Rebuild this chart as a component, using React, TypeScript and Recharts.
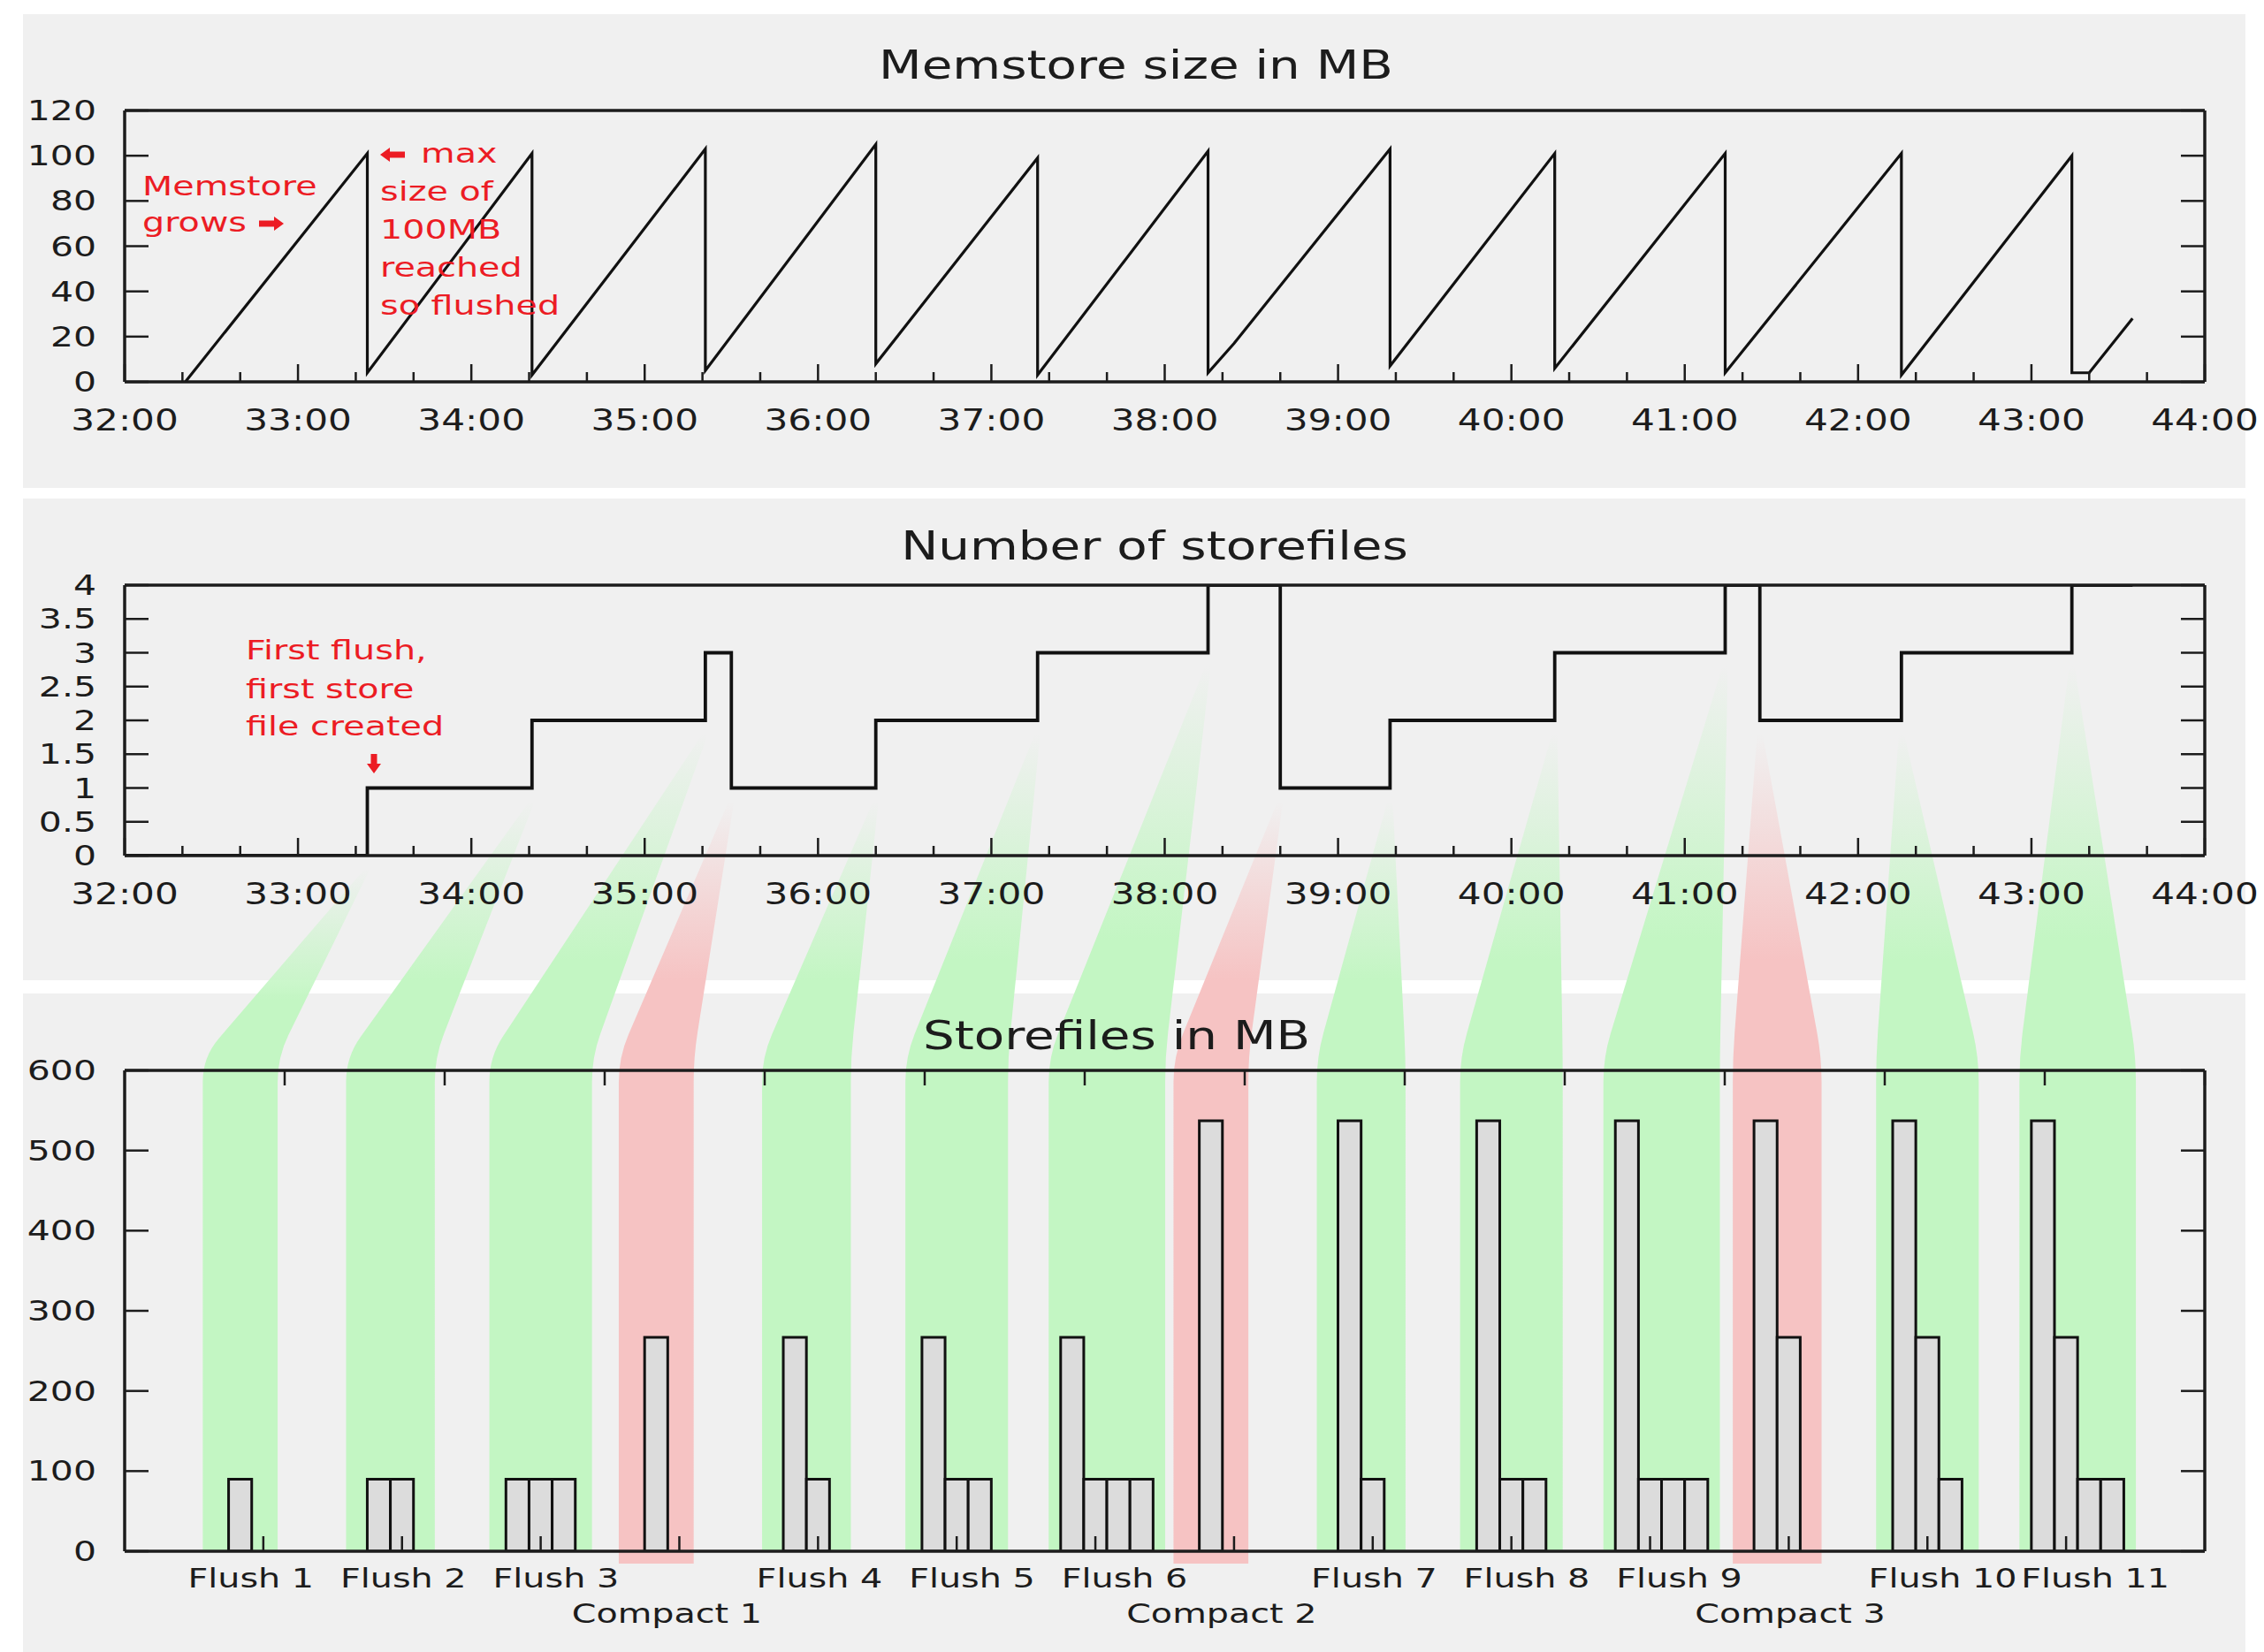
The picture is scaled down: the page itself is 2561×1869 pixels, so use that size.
import { ComposedChart, Line, Bar, XAxis, YAxis } from 'recharts'

// ── Data ───────────────────────────────────────────────────────────────────────
const timeTickLabels = ['32:00', '33:00', '34:00', '35:00', '36:00', '37:00', '38:00', '39:00', '40:00', '41:00', '42:00', '43:00', '44:00']

// memstore sawtooth: ramps up, flushed near 100MB
const memTimes = ['32:21', '33:24', '33:24', '34:21', '34:21', '35:21', '35:21', '36:20', '36:20', '37:16', '37:16', '38:15', '38:15', '38:24', '39:18', '39:18', '40:15', '40:15', '41:14', '41:14', '42:15', '42:15', '43:14', '43:14', '43:20', '43:35']
const memSizes = [0, 101, 4, 101, 3, 103, 5, 105, 8, 99, 3, 102, 4, 17, 103, 7, 101, 6, 101, 4, 101, 3, 100, 4, 4, 28]
const memTicks = [0, 20, 40, 60, 80, 100, 120]

// number of storefiles (step line)
const storefileTimes = ['32:00', '33:24', '34:21', '35:21', '35:30', '36:20', '37:16', '38:15', '38:40', '39:18', '40:15', '41:14', '41:26', '42:15', '43:14', '43:35']
const storefileCounts = [0, 1, 2, 3, 1, 2, 3, 4, 1, 2, 3, 4, 2, 3, 4, 4]
const countTicks = [0, 0.5, 1, 1.5, 2, 2.5, 3, 3.5, 4]

// storefile sizes after each event
const groupLabels = ['Flush 1', 'Flush 2', 'Flush 3', 'Compact 1', 'Flush 4', 'Flush 5', 'Flush 6', 'Compact 2', 'Flush 7', 'Flush 8', 'Flush 9', 'Compact 3', 'Flush 10', 'Flush 11']
const storefileSizes = [
  [90], [90, 90], [90, 90, 90], [267], [267, 90], [267, 90, 90], [267, 90, 90, 90],
  [537], [537, 90], [537, 90, 90], [537, 90, 90, 90], [537, 267], [537, 267, 90], [537, 267, 90, 90],
]
const sizeTicks = [0, 100, 200, 300, 400, 500, 600]

// ── Layout ─────────────────────────────────────────────────────────────────────
const PAGE_W = 2561
const PAGE_H = 1869
const PLOT_L = 141
const PLOT_R = 2494
const PLOT_W = PLOT_R - PLOT_L
const MEM = { y0: 0, y1: 560, top: 125, bottom: 432 }
const CNT = { y0: 560, y1: 1115, top: 662, bottom: 968 }
const SIZE = { y0: 1115, y1: 1869, top: 1211, bottom: 1755 }
const GROUP_SPAN = 15 // x units of the storefile chart
const BAR_UNITS = 1 / 6
const UNIT_PX = PLOT_W / GROUP_SPAN

const SX = 1.28 // the source image is stretched horizontally
const FONT = "'DejaVu Sans', sans-serif"
const INK = '#1c1c1c'
const RED = '#ec1c24'
const GREEN_BAND = '#c3f6c3'
const RED_BAND = '#f6c3c3'

const toSec = (s: string) => {
  const [m, ss] = s.split(':').map(Number)
  return m * 60 + ss
}
const majorTimes = timeTickLabels.map(toSec)
const T0 = majorTimes[0]
const T1 = majorTimes[majorTimes.length - 1]
const timeTicks = majorTimes.flatMap((t, i) => (i < majorTimes.length - 1 ? [t, t + 20, t + 40] : [t]))
const timeLabel = new Map(majorTimes.map((t, i) => [t, timeTickLabels[i]]))

const memData = memTimes.map((t, i) => ({ t: toSec(t), mb: memSizes[i] }))
const countData = storefileTimes.map((t, i) => ({ t: toSec(t), n: storefileCounts[i] }))
const sizeData = storefileSizes.map((files, i) => ({ pos: i + 1, f1: files[0], f2: files[1], f3: files[2], f4: files[3] }))
const groupTicks = groupLabels.map((_, i) => i + 1)

// cluster of bars starts a quarter unit left of its tick
const clusterCenter = (i: number) => i + 1 - 0.25 + (storefileSizes[i].length * BAR_UNITS) / 2

// ── Text helper ────────────────────────────────────────────────────────────────
function Stretch({ x, y, size, anchor = 'middle', fill = INK, children }: {
  x: number; y: number; size: number; anchor?: 'start' | 'middle' | 'end'; fill?: string; children: React.ReactNode
}) {
  return (
    <text transform={`translate(${x} ${y}) scale(${SX} 1)`} textAnchor={anchor} fontSize={size} fontFamily={FONT} fill={fill}>
      {children}
    </text>
  )
}

// short filled arrow used by the red notes
function Arrow({ x, y, dir, len = 28 }: { x: number; y: number; dir: 'left' | 'right' | 'down'; len?: number }) {
  const s = 3.5
  const h = 8
  const hl = 11
  let pts: number[][]
  if (dir === 'down') {
    pts = [[x - s, y], [x + s, y], [x + s, y + len - hl], [x + h, y + len - hl], [x, y + len], [x - h, y + len - hl], [x - s, y + len - hl]]
  } else {
    const k = dir === 'right' ? 1 : -1
    const x0 = dir === 'right' ? x : x + len
    pts = [[x0, y - s], [x0 + k * (len - hl), y - s], [x0 + k * (len - hl), y - h], [x0 + k * len, y], [x0 + k * (len - hl), y + h], [x0 + k * (len - hl), y + s], [x0, y + s]]
  }
  return <polygon points={pts.map((p) => p.join(',')).join(' ')} fill={RED} />
}

// ── Ticks (gnuplot style, pointing inward) ─────────────────────────────────────
interface TickProps { x?: number; y?: number; payload?: { value: number } }
const TICK_STROKE = { stroke: INK, strokeWidth: 2.5 }

function TimeTickBottom({ x = 0, y = 0, payload }: TickProps) {
  const v = payload?.value ?? 0
  const label = timeLabel.get(v)
  return (
    <g>
      <line x1={x} x2={x} y1={y} y2={y - (label ? 20 : 11)} {...TICK_STROKE} />
      {label && <Stretch x={x} y={y + 55} size={33}>{label}</Stretch>}
    </g>
  )
}

function TimeTickTop({ x = 0, y = 0, payload }: TickProps) {
  const major = timeLabel.has(payload?.value ?? 0)
  return <line x1={x} x2={x} y1={y} y2={y + (major ? 20 : 11)} {...TICK_STROKE} />
}

function ValueTickLeft({ x = 0, y = 0, payload }: TickProps) {
  return (
    <g>
      <line x1={x} x2={x + 27} y1={y} y2={y} {...TICK_STROKE} />
      <Stretch x={x - 32} y={y + 11} size={32} anchor="end">{String(payload?.value ?? '')}</Stretch>
    </g>
  )
}

function ValueTickRight({ x = 0, y = 0 }: TickProps) {
  return <line x1={x} x2={x - 27} y1={y} y2={y} {...TICK_STROKE} />
}

function GroupTickBottom({ x = 0, y = 0, payload }: TickProps) {
  const idx = (payload?.value ?? 1) - 1
  const label = groupLabels[idx] ?? ''
  const secondRow = label.startsWith('Compact')
  // labels drift right with the size of the bar cluster
  const lx = x + (-0.19 + 0.1 * (storefileSizes[idx]?.length ?? 1)) * UNIT_PX
  return (
    <g>
      <line x1={x} x2={x} y1={y} y2={y - 17} {...TICK_STROKE} />
      <Stretch x={lx} y={y + (secondRow ? 81 : 41)} size={31}>{label}</Stretch>
    </g>
  )
}

function GroupTickTop({ x = 0, y = 0 }: TickProps) {
  return <line x1={x} x2={x} y1={y} y2={y + 17} {...TICK_STROKE} />
}

const AXIS_LINE = { stroke: INK, strokeWidth: 3.5 }
const axisCommon = { tickLine: false, tickSize: 0, tickMargin: 0, interval: 0 as const, axisLine: AXIS_LINE, allowDataOverflow: true }

// ── Funnels linking storefile events to the size histogram ─────────────────────
function Funnels() {
  const tx = (s: number) => PLOT_L + ((s - T0) / (T1 - T0)) * PLOT_W
  const cy = (n: number) => CNT.bottom - (n / 4) * (CNT.bottom - CNT.top)
  const ux = (u: number) => PLOT_L + u * UNIT_PX
  const yJ = SIZE.top - 15
  const r = 28

  const items = groupLabels.map((_, i) => {
    const before = storefileCounts[i]
    const after = storefileCounts[i + 1]
    const compact = after < before
    const tipX = tx(toSec(storefileTimes[i + 1]))
    const tipY = cy(Math.min(before, after)) + 15
    const half = (0.44 + 0.1 * storefileSizes[i].length) / 2
    const left = ux(clusterCenter(i) - half)
    const right = ux(clusterCenter(i) + half)
    const yB = SIZE.bottom + (compact ? 14 : 0)
    const toward = (cx: number, px: number) => {
      const dx = px - cx
      const dy = tipY - yJ
      const len = Math.hypot(dx, dy)
      return [cx + (dx * r) / len, yJ + (dy * r) / len]
    }
    const [ax, ay] = toward(left, tipX - 3)
    const [bx, by] = toward(right, tipX + 3)
    const d = `M ${tipX - 3} ${tipY} L ${ax} ${ay} Q ${left} ${yJ} ${left} ${yJ + r} L ${left} ${yB} L ${right} ${yB} L ${right} ${yJ + r} Q ${right} ${yJ} ${bx} ${by} L ${tipX + 3} ${tipY} Z`
    return { compact, tipY, d }
  })

  return (
    <svg width={PAGE_W} height={PAGE_H} style={{ position: 'absolute', left: 0, top: 0 }}>
      <defs>
        {items.map((f, i) => (
          <linearGradient key={i} id={`fun${i}`} gradientUnits="userSpaceOnUse" x1={0} x2={0} y1={f.tipY} y2={f.tipY + 0.7 * (yJ - f.tipY)}>
            <stop offset="0" stopColor={f.compact ? RED_BAND : GREEN_BAND} stopOpacity={0} />
            <stop offset="1" stopColor={f.compact ? RED_BAND : GREEN_BAND} stopOpacity={1} />
          </linearGradient>
        ))}
      </defs>
      {items.map((f, i) => <path key={i} d={f.d} fill={`url(#fun${i})`} />)}
    </svg>
  )
}

// ── Panels ─────────────────────────────────────────────────────────────────────
function MemstoreChart() {
  return (
    <ComposedChart width={PAGE_W} height={MEM.y1 - MEM.y0} data={memData} margin={{ top: 0, right: 0, bottom: 0, left: 0 }}>
      <XAxis dataKey="t" type="number" domain={[T0, T1]} ticks={timeTicks} height={MEM.y1 - MEM.bottom} tick={<TimeTickBottom />} {...axisCommon} />
      <XAxis xAxisId="top" orientation="top" type="number" domain={[T0, T1]} ticks={timeTicks} height={MEM.top - MEM.y0} tick={<TimeTickTop />} {...axisCommon} />
      <YAxis type="number" domain={[0, 120]} ticks={memTicks} width={PLOT_L} tick={<ValueTickLeft />} {...axisCommon} />
      <YAxis yAxisId="right" orientation="right" type="number" domain={[0, 120]} ticks={memTicks} width={PAGE_W - PLOT_R} tick={<ValueTickRight />} {...axisCommon} />
      <Line dataKey="mb" type="linear" stroke="#111" strokeWidth={3.2} dot={false} activeDot={false} isAnimationActive={false} />
    </ComposedChart>
  )
}

function StorefileCountChart() {
  return (
    <ComposedChart width={PAGE_W} height={CNT.y1 - CNT.y0} data={countData} margin={{ top: 0, right: 0, bottom: 0, left: 0 }}>
      <XAxis dataKey="t" type="number" domain={[T0, T1]} ticks={timeTicks} height={CNT.y1 - CNT.bottom} tick={<TimeTickBottom />} {...axisCommon} />
      <XAxis xAxisId="top" orientation="top" type="number" domain={[T0, T1]} ticks={timeTicks} height={CNT.top - CNT.y0} tick={<TimeTickTop />} {...axisCommon} />
      <YAxis type="number" domain={[0, 4]} ticks={countTicks} width={PLOT_L} tick={<ValueTickLeft />} {...axisCommon} />
      <YAxis yAxisId="right" orientation="right" type="number" domain={[0, 4]} ticks={countTicks} width={PAGE_W - PLOT_R} tick={<ValueTickRight />} {...axisCommon} />
      <Line dataKey="n" type="stepAfter" stroke="#111" strokeWidth={3.8} dot={false} activeDot={false} isAnimationActive={false} />
    </ComposedChart>
  )
}

function StorefileSizeChart() {
  const barStyle = { fill: '#dcdcdc', stroke: '#111', strokeWidth: 3, barSize: UNIT_PX * BAR_UNITS, isAnimationActive: false }
  return (
    <ComposedChart width={PAGE_W} height={SIZE.y1 - SIZE.y0} data={sizeData} barGap={0} margin={{ top: 0, right: 0, bottom: 0, left: 0 }}>
      <XAxis dataKey="pos" type="number" domain={[0, GROUP_SPAN]} ticks={groupTicks} height={SIZE.y1 - SIZE.bottom} tick={<GroupTickBottom />} {...axisCommon} />
      <XAxis xAxisId="top" orientation="top" type="number" domain={[0, GROUP_SPAN]} ticks={groupTicks} height={SIZE.top - SIZE.y0} tick={<GroupTickTop />} {...axisCommon} />
      <YAxis type="number" domain={[0, 600]} ticks={sizeTicks} width={PLOT_L} tick={<ValueTickLeft />} {...axisCommon} />
      <YAxis yAxisId="right" orientation="right" type="number" domain={[0, 600]} ticks={sizeTicks} width={PAGE_W - PLOT_R} tick={<ValueTickRight />} {...axisCommon} />
      {/* empty leading slot shifts each cluster like the gnuplot histogram */}
      <Bar dataKey="pad" {...barStyle} />
      <Bar dataKey="f1" {...barStyle} />
      <Bar dataKey="f2" {...barStyle} />
      <Bar dataKey="f3" {...barStyle} />
      <Bar dataKey="f4" {...barStyle} />
    </ComposedChart>
  )
}

function Overlay() {
  return (
    <svg width={PAGE_W} height={PAGE_H} style={{ position: 'absolute', left: 0, top: 0 }}>
      <Stretch x={1285} y={89} size={44}>Memstore size in MB</Stretch>
      <Stretch x={1306} y={633} size={44}>Number of storefiles</Stretch>
      <Stretch x={1263} y={1187} size={44}>Storefiles in MB</Stretch>

      <Stretch x={161} y={221} size={31} anchor="start" fill={RED}>Memstore</Stretch>
      <Stretch x={161} y={262} size={31} anchor="start" fill={RED}>grows</Stretch>
      <Arrow x={293} y={253} dir="right" />
      <Arrow x={430} y={175} dir="left" />
      <Stretch x={476} y={184} size={31} anchor="start" fill={RED}>max</Stretch>
      <Stretch x={430} y={227} size={31} anchor="start" fill={RED}>size of</Stretch>
      <Stretch x={430} y={270} size={31} anchor="start" fill={RED}>100MB</Stretch>
      <Stretch x={430} y={313} size={31} anchor="start" fill={RED}>reached</Stretch>
      <Stretch x={430} y={356} size={31} anchor="start" fill={RED}>so flushed</Stretch>

      <Stretch x={278} y={746} size={31} anchor="start" fill={RED}>First flush,</Stretch>
      <Stretch x={278} y={790} size={31} anchor="start" fill={RED}>first store</Stretch>
      <Stretch x={278} y={832} size={31} anchor="start" fill={RED}>file created</Stretch>
      <Arrow x={423} y={853} dir="down" len={22} />
    </svg>
  )
}

const panelStyle = (top: number, bottom: number): React.CSSProperties => ({
  position: 'absolute', left: 26, top, width: 2540 - 26, height: bottom - top, background: '#f0f0f0',
})

export default function App() {
  return (
    <div style={{ position: 'absolute', left: 0, top: 0, width: PAGE_W, height: PAGE_H, background: '#fff', overflow: 'hidden' }}>
      <div style={panelStyle(16, 552)} />
      <div style={panelStyle(564, 1109)} />
      <div style={panelStyle(1124, PAGE_H)} />
      <Funnels />
      <div style={{ position: 'absolute', left: 0, top: MEM.y0 }}><MemstoreChart /></div>
      <div style={{ position: 'absolute', left: 0, top: CNT.y0 }}><StorefileCountChart /></div>
      <div style={{ position: 'absolute', left: 0, top: SIZE.y0 }}><StorefileSizeChart /></div>
      <Overlay />
    </div>
  )
}
